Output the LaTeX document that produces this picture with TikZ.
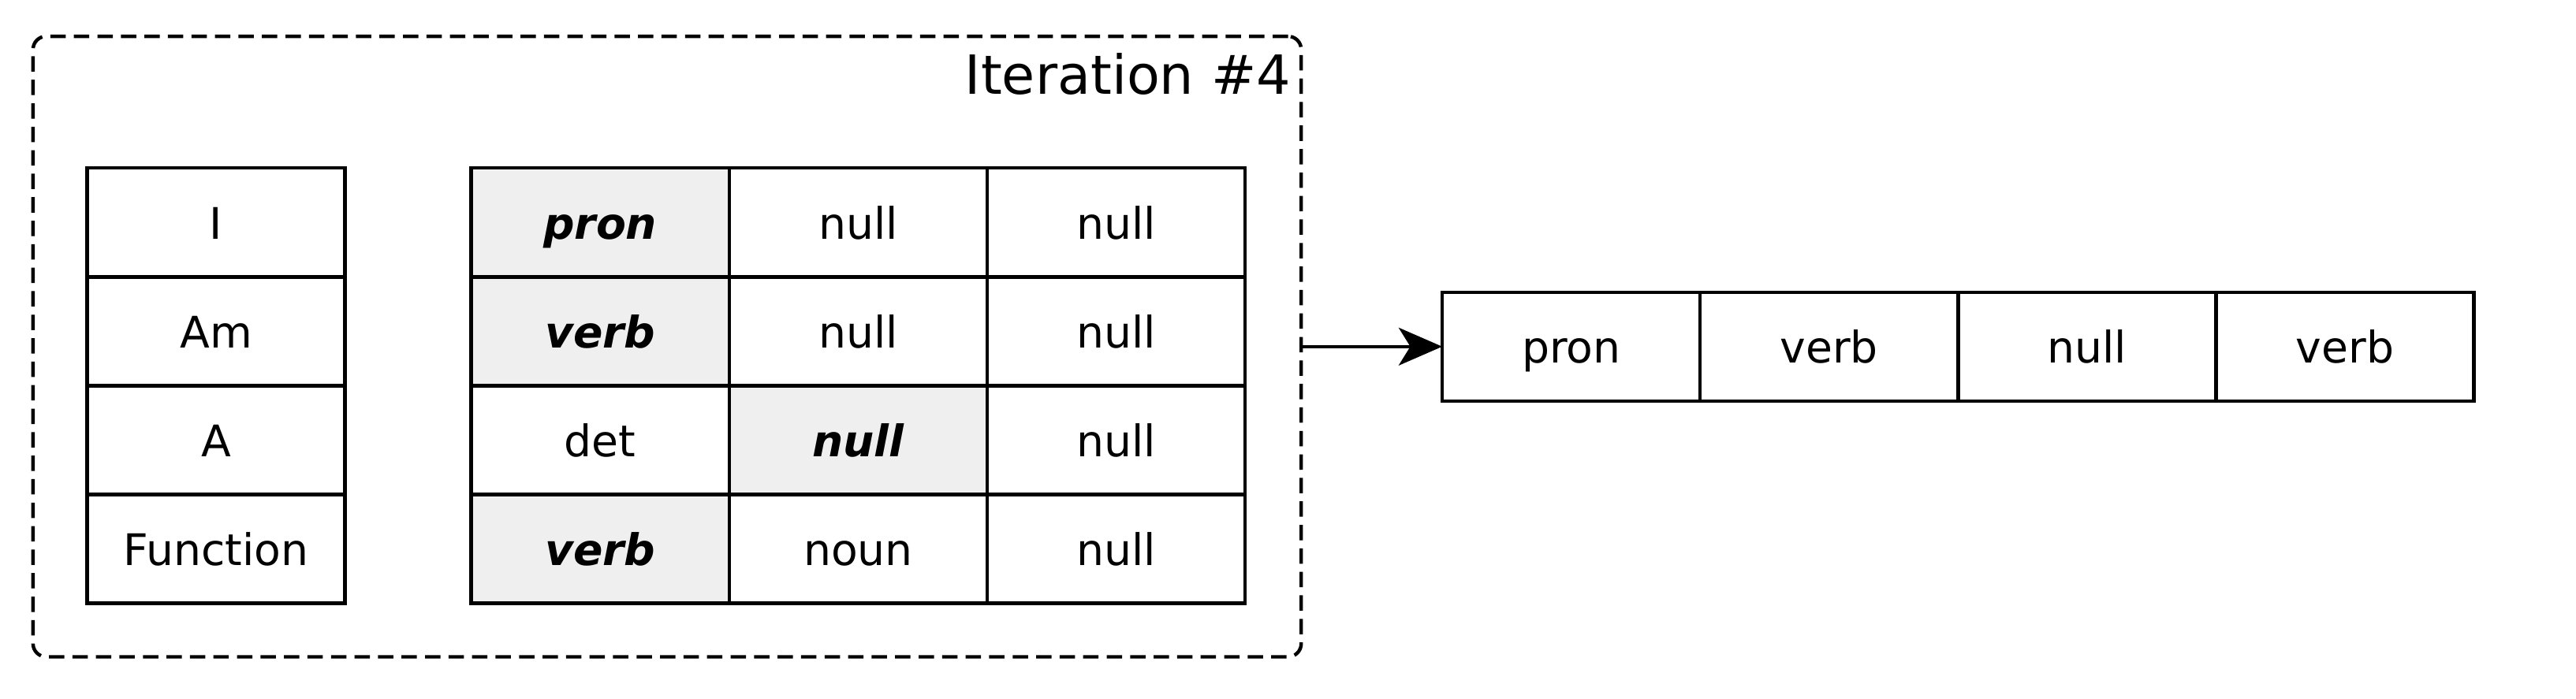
\documentclass[tikz,border=0pt]{standalone}
\usepackage{fontspec}
\setmainfont{DejaVu Sans}
\usepackage{xcolor}
\usetikzlibrary{positioning,arrows.meta}
\definecolor{hlgray}{HTML}{EFEFEF}

\begin{document}
\begin{tikzpicture}%
  \tikzstyle{cell}=[rectangle,draw=black,line width=1.2pt,minimum width=3.124cm,minimum height=1.318cm,outer sep=0pt,inner sep=0pt,text height=11.4pt,text depth=0pt,font=\fontsize{15}{18}\selectfont]
  \tikzstyle{hcell}=[cell,fill=hlgray,font=\fontsize{15}{18}\selectfont\bfseries\itshape]
  \tikzstyle{groupbox}=[rectangle,draw=black,line width=1.2pt,dash pattern=on 5.3pt off 2.8pt,rounded corners=0.16cm,minimum width=15.36cm,minimum height=7.52cm,outer sep=0pt]
  \useasboundingbox (0,0) rectangle (31.2,-8.4615);
  \node(iter)[groupbox] at (8.08,-4.2) {};
  \node[anchor=north east,inner xsep=0.12cm,inner ysep=0.2cm,font=\fontsize{18.6}{22}\selectfont] at (iter.north east) {Iteration \#4};
  % words
  \node(w1)[cell] at (2.617,-2.696) {I};
  \node(w2)[cell,below=0pt of w1] {Am};
  \node(w3)[cell,below=0pt of w2] {A};
  \node(w4)[cell,below=0pt of w3] {Function};
  % tags
  \node(t11)[hcell] at (7.27,-2.696) {pron};
  \node(t12)[cell,right=0pt of t11] {null};
  \node(t13)[cell,right=0pt of t12] {null};
  \node(t21)[hcell,below=0pt of t11] {verb};
  \node(t22)[cell,right=0pt of t21] {null};
  \node(t23)[cell,right=0pt of t22] {null};
  \node(t31)[cell,below=0pt of t21] {det};
  \node(t32)[hcell,right=0pt of t31] {null};
  \node(t33)[cell,right=0pt of t32] {null};
  \node(t41)[hcell,below=0pt of t31] {verb};
  \node(t42)[cell,right=0pt of t41] {noun};
  \node(t43)[cell,right=0pt of t42] {null};
  % output
  \node(o1)[cell] at (19.03,-4.2) {pron};
  \node(o2)[cell,right=0pt of o1] {verb};
  \node(o3)[cell,right=0pt of o2] {null};
  \node(o4)[cell,right=0pt of o3] {verb};
  \draw[-{Stealth[length=15pt,width=13pt,inset=4pt]},line width=1.2pt] (iter.east) -- (o1.west);
\end{tikzpicture}
\end{document}
